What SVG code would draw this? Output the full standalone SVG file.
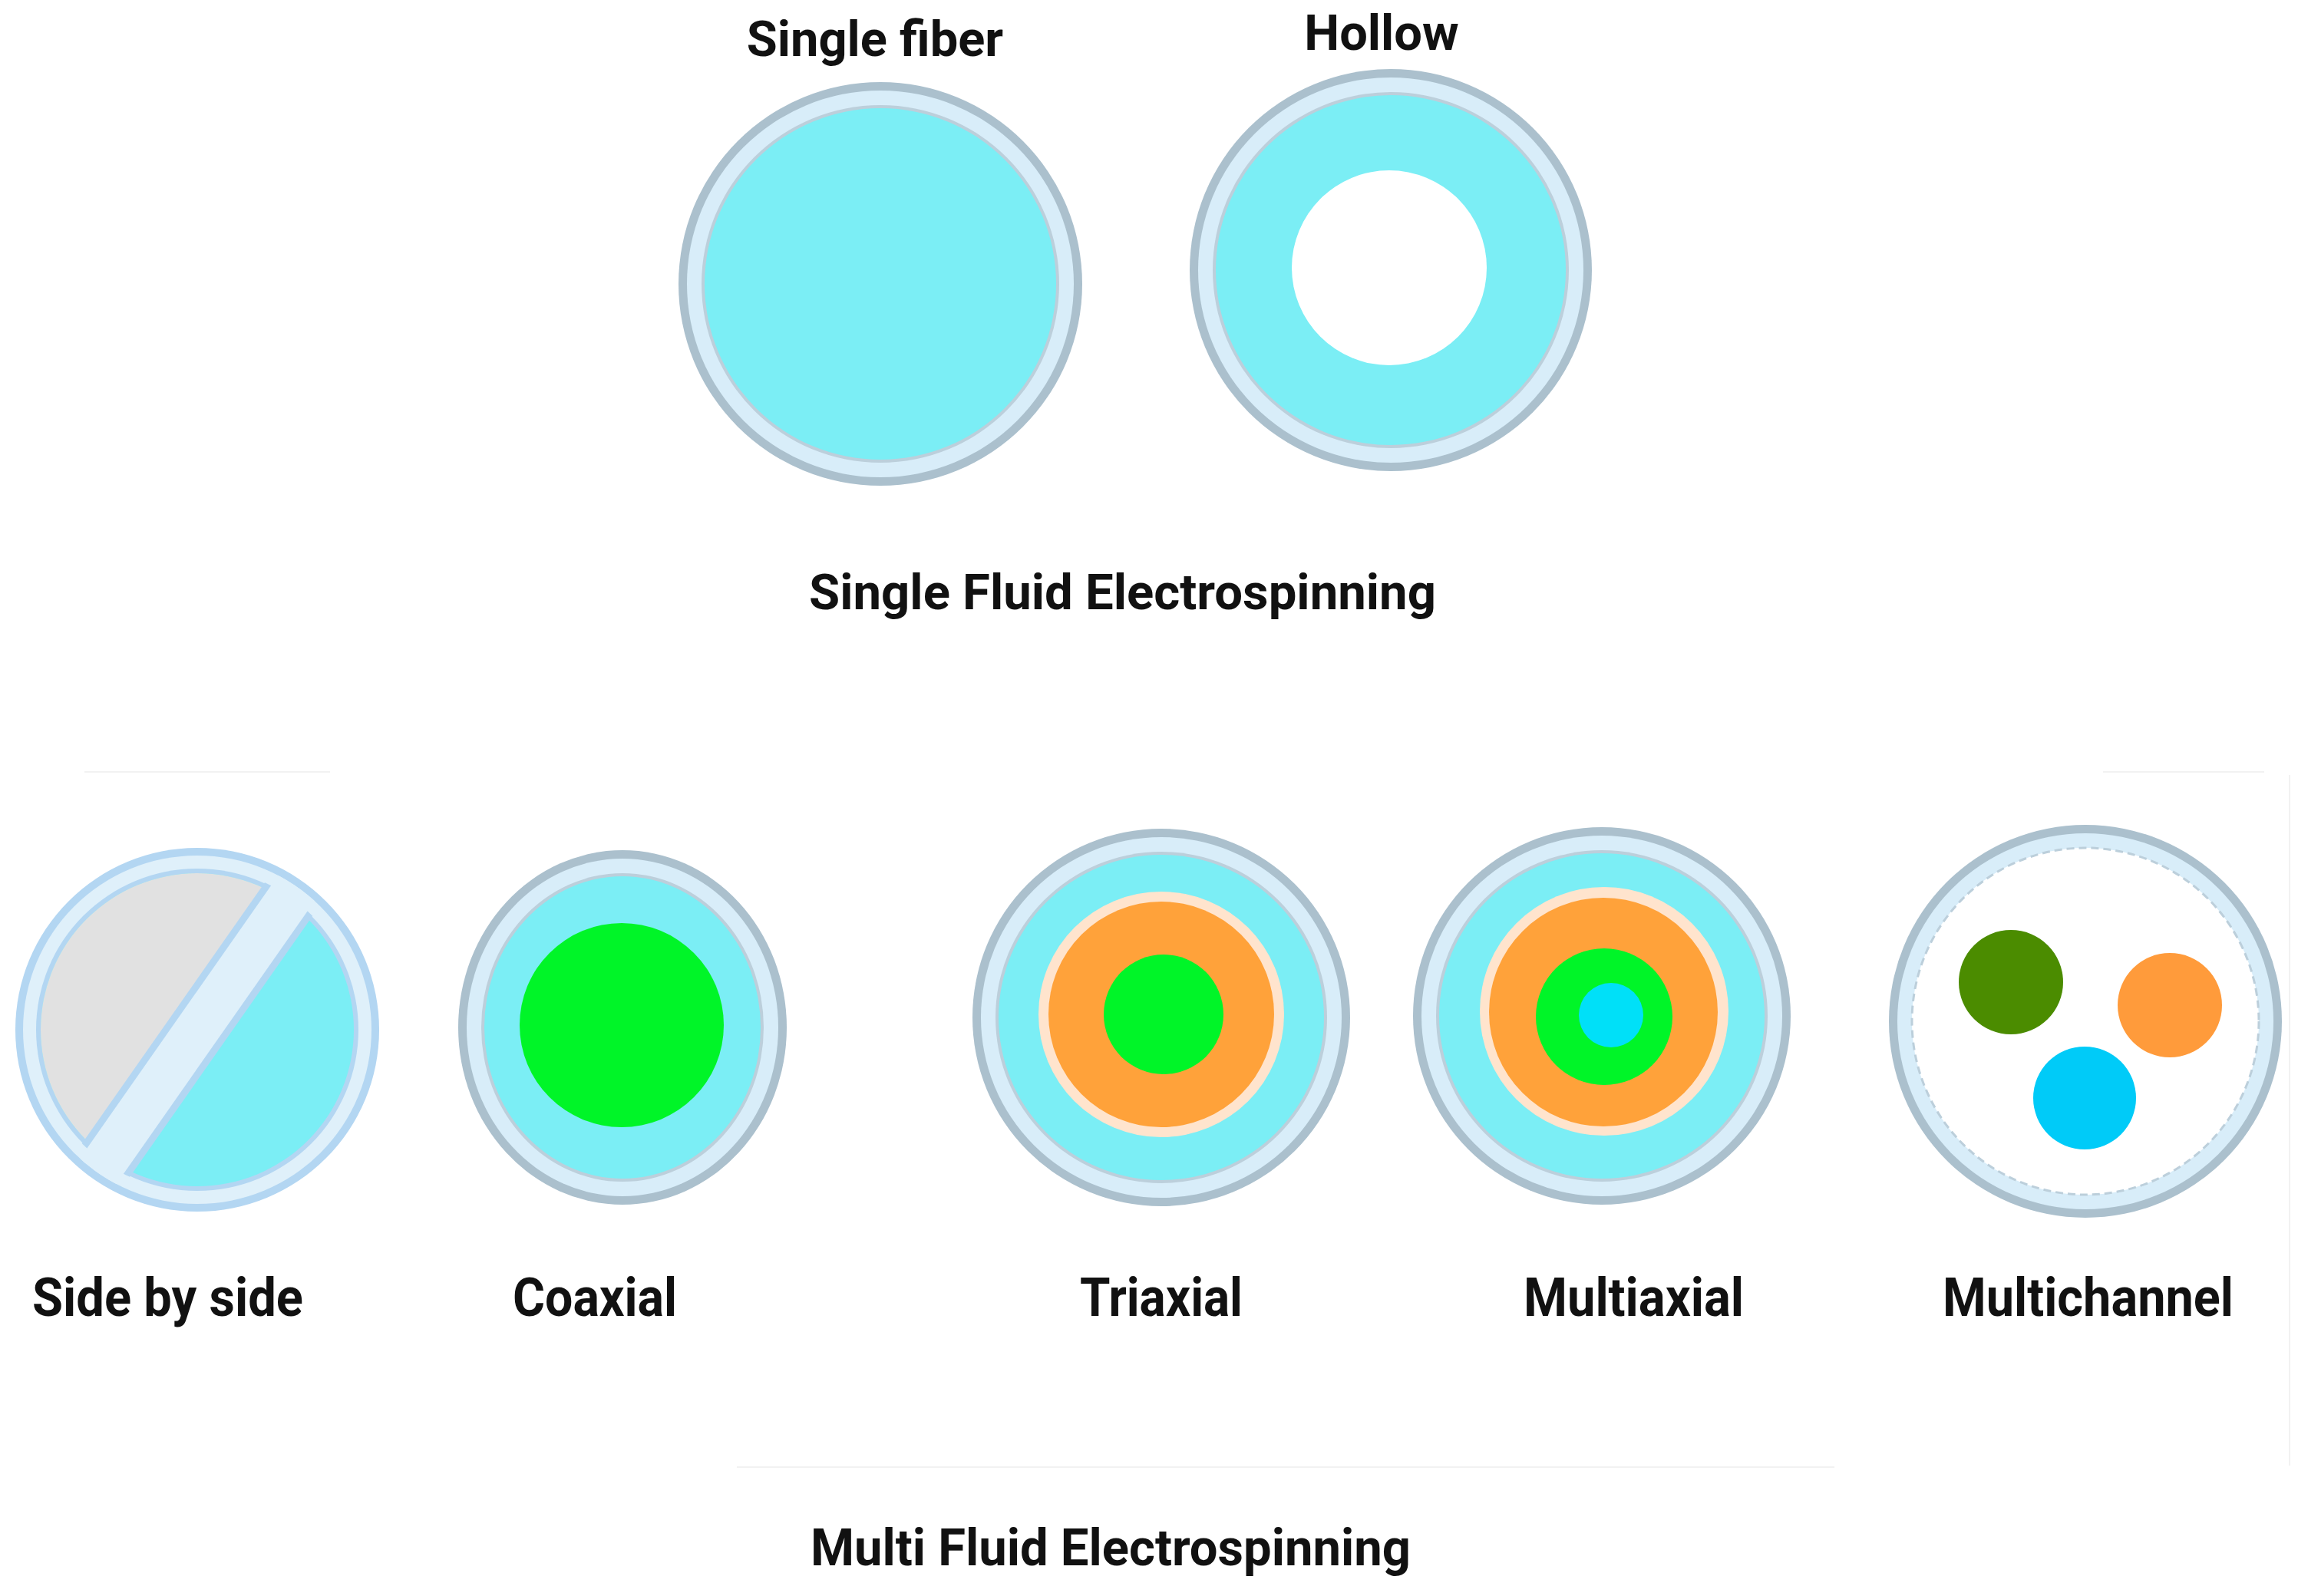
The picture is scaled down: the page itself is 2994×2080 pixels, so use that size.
<svg xmlns="http://www.w3.org/2000/svg" width="2994" height="2080" viewBox="0 0 2994 2080">
<style>
.t{font-family:Roboto,"Liberation Sans",sans-serif;font-weight:700;fill:#111}
.rg{fill:#abc0cd}
.rl{fill:#d8edf9}
.rt{fill:#bccfdb}
.cy{fill:#7beef5}
.gr{fill:#00f528}
.or{fill:#ffa23a}
.pe{fill:#ffe4cd}
</style>
<defs>
<clipPath id="sbsCore"><circle cx="257" cy="1342" r="204"/></clipPath>
<clipPath id="sbsBand"><circle cx="257" cy="1342" r="227"/></clipPath>
<clipPath id="sbsBand2"><circle cx="257" cy="1342" r="211"/></clipPath>
</defs>
<rect width="2994" height="2080" fill="#fff"/>
<g id="faint" stroke="#f2f2f2" stroke-width="2">
<line x1="110" y1="1006" x2="430" y2="1006"/>
<line x1="2740" y1="1006" x2="2950" y2="1006"/>
<line x1="960" y1="1912" x2="2390" y2="1912"/>
<line x1="2983" y1="1010" x2="2983" y2="1910"/>
</g>
<g id="single-fiber">
<circle cx="1147" cy="370" r="263" class="rg"/>
<circle cx="1147" cy="370" r="252" class="rl"/>
<circle cx="1147" cy="370" r="233" class="rt"/>
<circle cx="1147" cy="370" r="229" class="cy"/>
<text class="t" x="1140" y="73" font-size="65" text-anchor="middle">Single fiber</text>
</g>
<g id="hollow">
<circle cx="1812" cy="352" r="262" class="rg"/>
<circle cx="1812" cy="352" r="251" class="rl"/>
<circle cx="1812" cy="352" r="232" class="rt"/>
<circle cx="1812" cy="352" r="228" class="cy"/>
<circle cx="1810" cy="349" r="127" fill="#fff"/>
<text class="t" x="1800" y="65" font-size="65" text-anchor="middle">Hollow</text>
</g>
<g id="single-fluid-title">
<text class="t" x="1054" y="794" font-size="65" textLength="817" lengthAdjust="spacingAndGlyphs">Single Fluid Electrospinning</text>
</g>
<g id="side-by-side">
<circle cx="257" cy="1342" r="237" fill="#b3d6f2"/>
<circle cx="257" cy="1342" r="227" fill="#dff0fa"/>
<circle cx="257" cy="1342" r="210" fill="#b3d6f2"/>
<g clip-path="url(#sbsCore)">
<rect x="0" y="1100" width="520" height="500" fill="#7beef5"/>
<rect x="-400" y="-400" width="400" height="800" fill="#e1e1e1" transform="translate(257 1342) rotate(35)"/>
</g>
<g clip-path="url(#sbsBand2)">
<rect x="-38" y="-300" width="76" height="600" fill="#b3d6f2" transform="translate(257 1342) rotate(35)"/>
</g>
<g clip-path="url(#sbsBand)">
<rect x="-29" y="-300" width="58" height="600" fill="#dff0fa" transform="translate(257 1342) rotate(35)"/>
</g>
<text class="t" x="42" y="1715" font-size="70" textLength="353" lengthAdjust="spacingAndGlyphs">Side by side</text>
</g>
<g id="coaxial">
<ellipse cx="811" cy="1339" rx="214" ry="231" class="rg"/>
<ellipse cx="811" cy="1339" rx="203" ry="220" class="rl"/>
<ellipse cx="811" cy="1339" rx="184" ry="201" class="rt"/>
<ellipse cx="811" cy="1339" rx="180" ry="197" class="cy"/>
<circle cx="810" cy="1336" r="133" class="gr"/>
<text class="t" x="668" y="1715" font-size="70" textLength="214" lengthAdjust="spacingAndGlyphs">Coaxial</text>
</g>
<g id="triaxial">
<circle cx="1513" cy="1326" r="246" class="rg"/>
<circle cx="1513" cy="1326" r="235" class="rl"/>
<circle cx="1513" cy="1326" r="216" class="rt"/>
<circle cx="1513" cy="1326" r="212" class="cy"/>
<circle cx="1513" cy="1322" r="160" class="pe"/>
<circle cx="1513" cy="1322" r="147" class="or"/>
<circle cx="1516" cy="1322" r="78" class="gr"/>
<text class="t" x="1407" y="1715" font-size="70" textLength="212" lengthAdjust="spacingAndGlyphs">Triaxial</text>
</g>
<g id="multiaxial">
<circle cx="2087" cy="1324" r="246" class="rg"/>
<circle cx="2087" cy="1324" r="235" class="rl"/>
<circle cx="2087" cy="1324" r="216" class="rt"/>
<circle cx="2087" cy="1324" r="212" class="cy"/>
<circle cx="2090" cy="1318" r="162" class="pe"/>
<circle cx="2089" cy="1319" r="149" class="or"/>
<circle cx="2090" cy="1325" r="89" class="gr"/>
<circle cx="2099" cy="1323" r="42" fill="#00e0f8"/>
<text class="t" x="1985" y="1715" font-size="70" textLength="287" lengthAdjust="spacingAndGlyphs">Multiaxial</text>
</g>
<g id="multichannel">
<circle cx="2717" cy="1331" r="256" class="rg"/>
<circle cx="2717" cy="1331" r="245" class="rl"/>
<circle cx="2717" cy="1331" r="226" fill="#fff" stroke="#bccfdb" stroke-width="3" stroke-dasharray="10 6"/>
<circle cx="2620" cy="1280" r="68" fill="#4b8c00"/>
<circle cx="2827" cy="1310" r="68" fill="#ff9b3b"/>
<circle cx="2716" cy="1431" r="67" fill="#00cbf8"/>
<text class="t" x="2531" y="1715" font-size="70" textLength="379" lengthAdjust="spacingAndGlyphs">Multichannel</text>
</g>
<g id="multi-fluid-title">
<text class="t" x="1056" y="2040" font-size="66" textLength="782" lengthAdjust="spacingAndGlyphs">Multi Fluid Electrospinning</text>
</g>
<g id="connectors"/>
</svg>
